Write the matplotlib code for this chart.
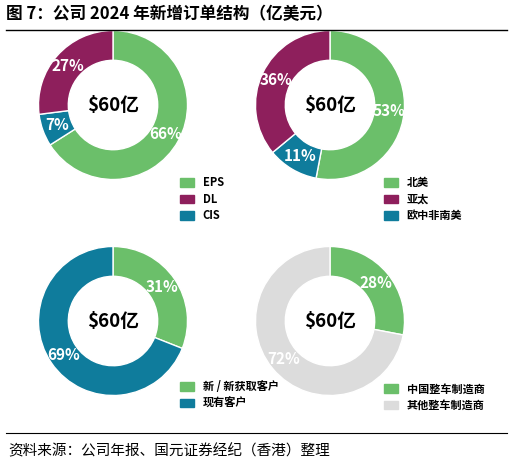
import matplotlib.pyplot as plt
from matplotlib.patches import Patch

plt.rcParams['font.family'] = ['Noto Sans CJK SC', 'DejaVu Sans']

GREEN = '#6bbf6a'
PURPLE = '#8e1f5c'
TEAL = '#0f7c9c'
GRAY = '#dcdcdc'

# each chart: slice values clockwise from 12 o'clock, colours, legend labels/colours
chart1_vals = [66, 7, 27]
chart1_cols = [GREEN, TEAL, PURPLE]
chart1_legend = ['EPS', 'DL', 'CIS']
chart1_legend_cols = [GREEN, PURPLE, TEAL]

chart2_vals = [53, 11, 36]
chart2_cols = [GREEN, TEAL, PURPLE]
chart2_legend = ['北美', '亚太', '欧中非南美']
chart2_legend_cols = [GREEN, PURPLE, TEAL]

chart3_vals = [31, 69]
chart3_cols = [GREEN, TEAL]
chart3_legend = ['新 / 新获取客户', '现有客户']
chart3_legend_cols = [GREEN, TEAL]

chart4_vals = [28, 72]
chart4_cols = [GREEN, GRAY]
chart4_legend = ['中国整车制造商', '其他整车制造商']
chart4_legend_cols = [GREEN, GRAY]

W, H = 513, 469
fig = plt.figure(figsize=(W / 100, H / 100), dpi=100)


def px_axes(x, y, w, h):
    return fig.add_axes([x / W, 1 - (y + h) / H, w / W, h / H])


def donut(cx, cy, vals, cols, legend, legend_cols, lx, ly):
    r = 76
    ax = px_axes(cx - r, cy - r, 2 * r, 2 * r)
    wedges, texts = ax.pie(vals, colors=cols, startangle=90, counterclock=False,
                           radius=1, wedgeprops=dict(width=0.40, edgecolor='white', linewidth=1),
                           labels=[f'{v}%' for v in vals], labeldistance=0.80)
    for t in texts:
        t.set_color('white')
        t.set_fontsize(11)
        t.set_fontweight('bold')
        t.set_ha('center')
        t.set_va('center')
    ax.text(0, 0, '$60亿', ha='center', va='center', fontsize=13.5, fontweight='bold')
    ax.set_xlim(-1.02, 1.02)
    ax.set_ylim(-1.02, 1.02)
    ax.set_aspect('equal')
    ax.axis('off')
    handles = [Patch(color=c) for c in legend_cols]
    fig.legend(handles, legend, loc='upper left', bbox_to_anchor=(lx / W, 1 - ly / H),
               frameon=False, handlelength=1.2, handleheight=0.8,
               labelspacing=0.3, borderaxespad=0, prop={'weight': 'bold', 'size': 8})


donut(113, 105, chart1_vals, chart1_cols, chart1_legend, chart1_legend_cols, 176, 172)
donut(330, 105, chart2_vals, chart2_cols, chart2_legend, chart2_legend_cols, 380, 172)
donut(113, 321, chart3_vals, chart3_cols, chart3_legend, chart3_legend_cols, 176, 376)
donut(330, 321, chart4_vals, chart4_cols, chart4_legend, chart4_legend_cols, 380, 378)

fig.text(6 / W, 1 - 14 / H, '图 7：公司 2024 年新增订单结构（亿美元）', fontsize=12,
         fontweight='bold', va='center', ha='left')
fig.add_artist(plt.Line2D([6 / W, 507 / W], [1 - 30 / H, 1 - 30 / H], color='black', lw=1))
fig.add_artist(plt.Line2D([6 / W, 507 / W], [1 - 433 / H, 1 - 433 / H], color='black', lw=0.8))
fig.text(8 / W, 1 - 451 / H, '资料来源：公司年报、国元证券经纪（香港）整理', fontsize=10.5,
         va='center', ha='left', style='italic')

fig.savefig('out.png', dpi=100)
